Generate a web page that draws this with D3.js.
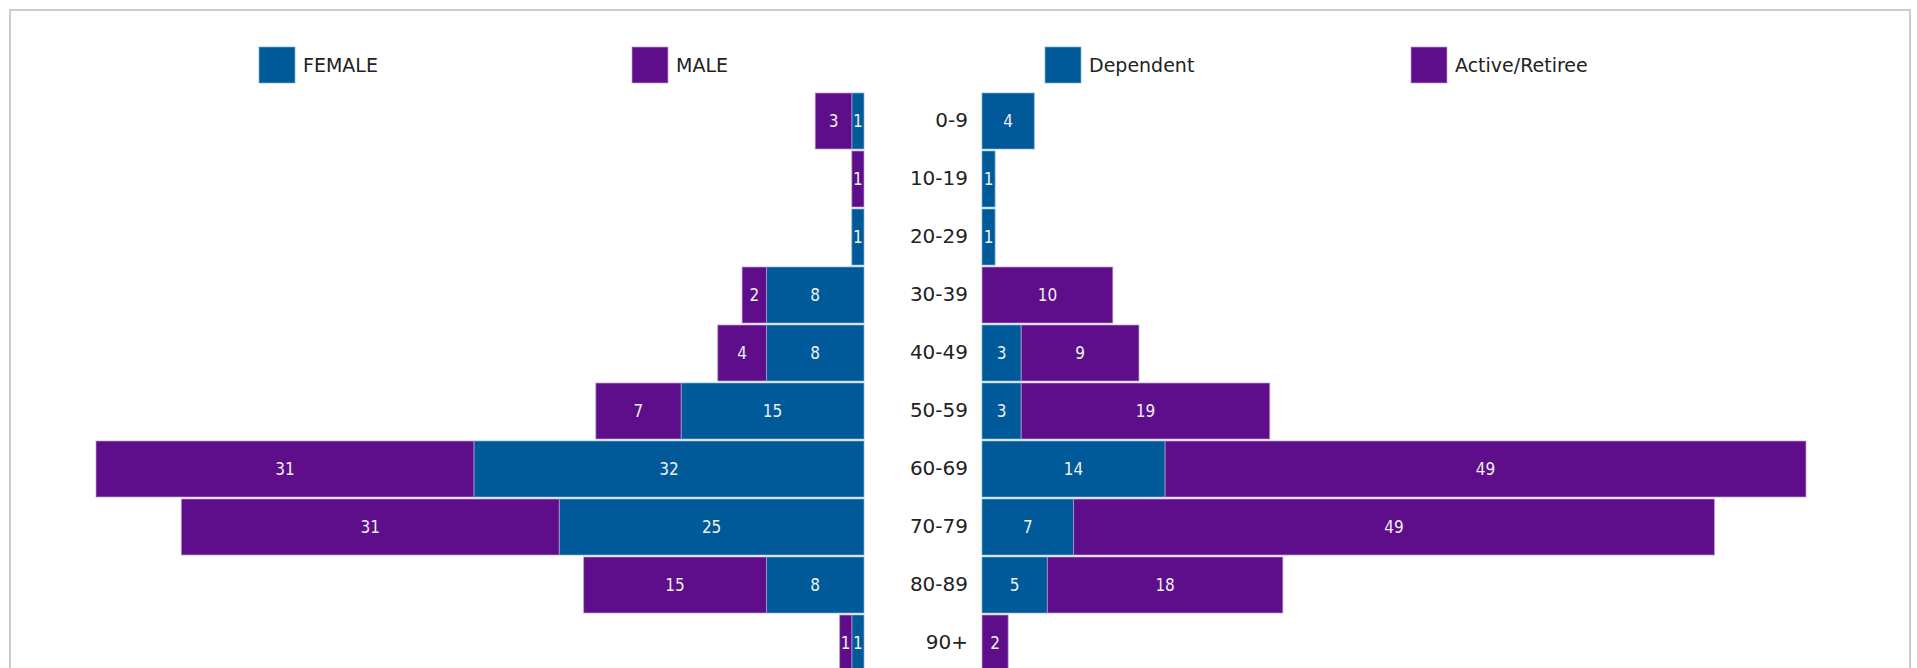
<!DOCTYPE html>
<html>
<head>
<meta charset="utf-8">
<script src="https://cdn.jsdelivr.net/npm/d3@7/dist/d3.min.js"></script>
<style>
  html, body { margin: 0; padding: 0; background: #fff; overflow: hidden; }
  svg { display: block; }
  text { font-family: "DejaVu Sans", Verdana, sans-serif; }
  .barlabel { font-family: "DejaVu Sans Condensed", "DejaVu Sans", sans-serif; font-stretch: condensed; }
</style>
</head>
<body>
<svg id="chart" width="1917" height="668"></svg>
<script>
const categories = ["0-9", "10-19", "20-29", "30-39", "40-49", "50-59", "60-69", "70-79", "80-89", "90+"];
const female    = [1, 0, 1, 8, 8, 15, 32, 25, 8, 1];
const male      = [3, 1, 0, 2, 4, 7, 31, 31, 15, 1];
const dependent = [4, 1, 1, 0, 3, 3, 14, 7, 5, 0];
const active    = [0, 0, 0, 10, 9, 19, 49, 49, 18, 2];
const leftLegend  = ["FEMALE", "MALE"];
const rightLegend = ["Dependent", "Active/Retiree"];

const BLUE = "#005a9a", PURPLE = "#5e0e8a";

const svg = d3.select("#chart");

// frame
svg.append("rect").attr("x", 10).attr("y", 10).attr("width", 1900).attr("height", 700)
  .attr("fill", "none").attr("stroke", "#cccccc").attr("stroke-width", 2);

const y = d3.scaleBand().domain(categories).range([92, 672])
  .paddingInner(2 / 58).paddingOuter(1 / 58);

const leftMax = d3.max(categories.map((c, i) => female[i] + male[i]));
const rightMax = d3.max(categories.map((c, i) => dependent[i] + active[i]));
const xL = d3.scaleLinear().domain([0, leftMax]).range([864, 96]);
const xR = d3.scaleLinear().domain([0, rightMax]).range([982, 1806]);

function stackRows(inner, outer) {
  const rows = [];
  categories.forEach((c, i) => {
    rows.push({ cat: c, key: "inner", v0: 0, v1: inner[i], v: inner[i] });
    rows.push({ cat: c, key: "outer", v0: inner[i], v1: inner[i] + outer[i], v: outer[i] });
  });
  return rows.filter(d => d.v > 0);
}

function drawSide(rows, x) {
  const g = svg.append("g");
  const segs = g.selectAll("g.seg").data(rows).join("g");
  segs.append("rect")
    .attr("x", d => Math.min(x(d.v0), x(d.v1)))
    .attr("y", d => y(d.cat))
    .attr("width", d => Math.abs(x(d.v1) - x(d.v0)))
    .attr("height", y.bandwidth())
    .attr("fill", d => d.key === "inner" ? BLUE : PURPLE)
    .attr("stroke", d => d.key === "inner" ? "#7fb0d4" : "#b99fd0")
    .attr("stroke-opacity", 0.7)
    .attr("stroke-width", 1);
  segs.append("text")
    .attr("class", "barlabel")
    .attr("x", d => (x(d.v0) + x(d.v1)) / 2)
    .attr("y", d => y(d.cat) + y.bandwidth() / 2)
    .attr("dy", "0.36em")
    .attr("text-anchor", "middle")
    .attr("font-size", 17)
    .attr("fill", "#f0f0f0")
    .text(d => d.v);
}

drawSide(stackRows(female, male), xL);
drawSide(stackRows(dependent, active), xR);

// category axis (labels only)
const axis = d3.axisLeft(y).tickSize(0).tickPadding(0);
const ag = svg.append("g").attr("transform", "translate(968,0)").call(axis);
ag.select(".domain").remove();
ag.selectAll("text").attr("font-size", 20).attr("fill", "#222")
  .attr("font-family", "'DejaVu Sans', Verdana, sans-serif");

// legends
const legendItems = [
  { label: leftLegend[0], color: BLUE, x: 259 },
  { label: leftLegend[1], color: PURPLE, x: 632 },
  { label: rightLegend[0], color: BLUE, x: 1045 },
  { label: rightLegend[1], color: PURPLE, x: 1411 }
];
const lg = svg.append("g").selectAll("g").data(legendItems).join("g")
  .attr("transform", d => `translate(${d.x},47)`);
lg.append("rect").attr("width", 36).attr("height", 36)
  .attr("fill", d => d.color)
  .attr("stroke", d => d.color === BLUE ? "#7fb0d4" : "#b99fd0").attr("stroke-opacity", 0.7);
lg.append("text").attr("x", 44).attr("y", 18).attr("dy", "0.36em")
  .attr("font-size", 19).attr("fill", "#222")
  .text(d => d.label);
</script>
</body>
</html>
